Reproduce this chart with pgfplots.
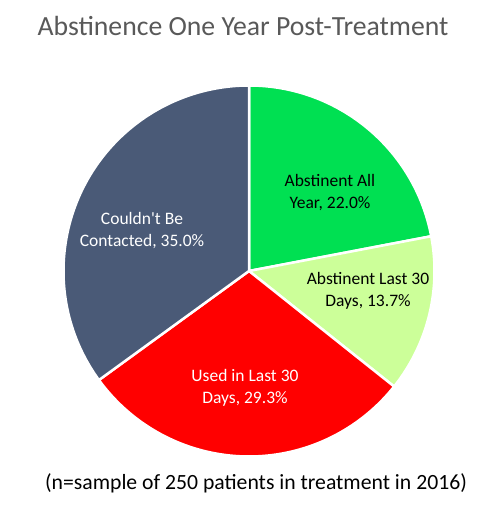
\documentclass[border=0pt]{standalone}
\usepackage{fontspec}
\setmainfont{Carlito}[Ligatures=TeXOff]
\usepackage{pgfplots}
\usepackage{pgfplotstable}
\pgfplotsset{compat=1.18}

\definecolor{slate}{HTML}{4A5A77}
\definecolor{abgreen}{HTML}{00E052}
\definecolor{ltgreen}{HTML}{CCFF99}
\definecolor{usedred}{HTML}{FF0000}
\definecolor{titlegray}{HTML}{595959}

\pgfplotstableread[col sep=comma]{
label,value
Abstinent All Year,22.0
Abstinent Last 30 Days,13.7
Used in Last 30 Days,29.3
Couldn't Be Contacted,35.0
}\piedata

\begin{document}
\begin{tikzpicture}
% slice values from the table
\pgfplotstablegetelem{0}{value}\of\piedata\let\vA\pgfplotsretval
\pgfplotstablegetelem{1}{value}\of\piedata\let\vB\pgfplotsretval
\pgfplotstablegetelem{2}{value}\of\piedata\let\vC\pgfplotsretval
\pgfplotstablegetelem{3}{value}\of\piedata\let\vD\pgfplotsretval
% cumulative angles, clockwise from the top
\pgfmathsetmacro\aA{90}
\pgfmathsetmacro\aB{\aA-3.6*\vA}
\pgfmathsetmacro\aC{\aB-3.6*\vB}
\pgfmathsetmacro\aD{\aC-3.6*\vC}
\pgfmathsetmacro\aE{\aD-3.6*\vD}
\begin{axis}[
  width=500pt, height=505pt, scale only axis,
  xmin=0, xmax=500, ymin=0, ymax=505, enlargelimits=false,
  hide axis, clip=false,
]
\def\cx{249}\def\cy{234}\def\R{185.5pt}
\fill[abgreen, draw=white, line width=2.5pt] (axis cs:\cx,\cy) -- +(\aA:\R) arc[start angle=\aA, end angle=\aB, radius=\R] -- cycle;
\fill[ltgreen, draw=white, line width=2.5pt] (axis cs:\cx,\cy) -- +(\aB:\R) arc[start angle=\aB, end angle=\aC, radius=\R] -- cycle;
\fill[usedred, draw=white, line width=2.5pt] (axis cs:\cx,\cy) -- +(\aC:\R) arc[start angle=\aC, end angle=\aD, radius=\R] -- cycle;
\fill[slate, draw=white, line width=2.5pt] (axis cs:\cx,\cy) -- +(\aD:\R) arc[start angle=\aD, end angle=\aE, radius=\R] -- cycle;

\tikzset{slicelabel/.style={align=center, font=\fontsize{17.5}{22}\selectfont}}
\node[slicelabel, text=black] at (axis cs:330,312) {Abstinent All\\Year, 22.0\%};
\node[slicelabel, text=black] at (axis cs:368,214) {Abstinent Last 30\\Days, 13.7\%};
\node[slicelabel, text=white] at (axis cs:245,117) {Used in Last 30\\Days, 29.3\%};
\node[slicelabel, text=white] at (axis cs:142,274) {Couldn't Be\\Contacted, 35.0\%};

\node[font=\fontsize{27.7}{30}\selectfont, text=titlegray] at (axis cs:243,479) {Abstinence One Year Post-Treatment};
\node[font=\fontsize{21.7}{24}\selectfont, text=black] at (axis cs:256,22) {(n=sample of 250 patients in treatment in 2016)};
\end{axis}
\pgfresetboundingbox
\path (current axis.south west) rectangle (current axis.north east);
\end{tikzpicture}
\end{document}
